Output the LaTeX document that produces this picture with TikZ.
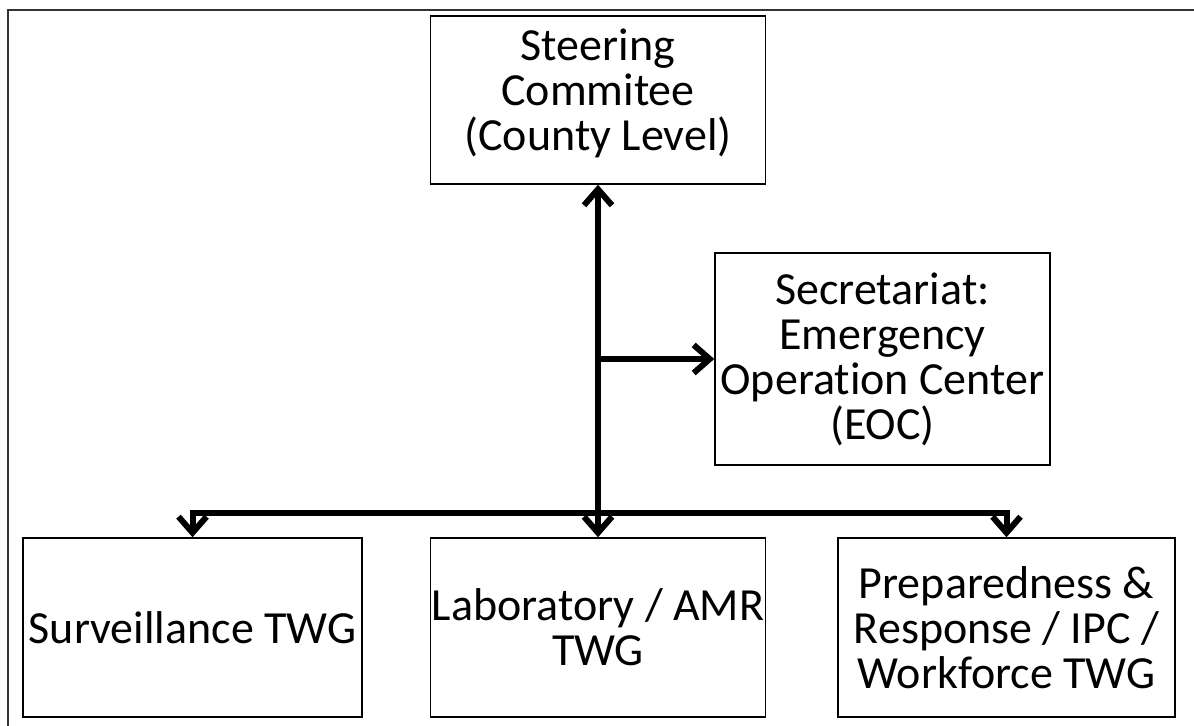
\documentclass[tikz,border=0pt]{standalone}
\usepackage{fontspec}
\setmainfont{Carlito}[RawFeature={-liga;-clig;-calt;-dlig}]
\usetikzlibrary{arrows.meta}
\tikzset{every picture/.style={line width=0.75pt}}

\begin{document}
\begin{tikzpicture}[x=0.5pt,y=0.5pt,yscale=-1,
  box/.style={draw, line width=0.75pt, align=center, inner sep=0pt,
    font=\fontsize{23}{22.5}\selectfont},
  link/.style={line width=3pt, line cap=round,
    -{Straight Barb[length=8pt,width=14pt]}}]
	\useasboundingbox (0,0) rectangle (1194,726);
	
	%Outer frame
	\draw [line width=1pt, color=black!80] (7.5,726) -- (7.5,10.5) -- (1194,10.5) ;
	
	%Boxes
	\node [box, minimum width=167.5pt, minimum height=84pt] (steer) at (598,100) {Steering\\Commitee\\(County Level)\\[-12pt]};
	\node [box, minimum width=167.5pt, minimum height=106pt] (secr) at (882.5,359) {Secretariat:\\Emergency\\Operation Center\\(EOC)};
	\node [box, minimum width=169.5pt, minimum height=89.5pt] (surv) at (192.5,627.5) {Surveillance TWG};
	\node [box, minimum width=167.5pt, minimum height=89.5pt] (lab) at (598,627.5) {Laboratory / AMR\\TWG};
	\node [box, minimum width=168.5pt, minimum height=89.5pt] (prep) at (1006.5,627.5) {Preparedness \&\\Response / IPC /\\Workforce TWG};
	
	%Junctions
	\coordinate (hub) at (598,513);
	\coordinate (tee) at (598,359);
	
	%Connectors
	\draw [link] (hub) -- (steer.south) ;
	\draw [link] (hub) -- (lab.north) ;
	\draw [link] (tee) -- (secr.west) ;
	\draw [link] (hub) -| (surv.north) ;
	\draw [link] (hub) -| (prep.north) ;
	
\end{tikzpicture}
\end{document}
